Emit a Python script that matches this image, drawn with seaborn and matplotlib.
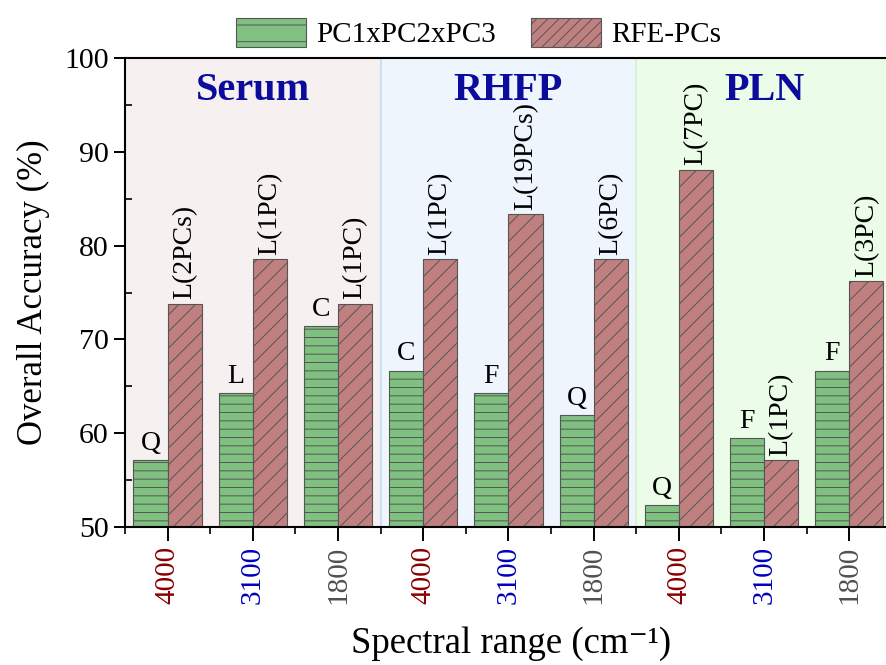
import pandas as pd
import seaborn as sns
import matplotlib.pyplot as plt
from matplotlib.patches import Patch
from matplotlib.ticker import MultipleLocator

regions = ['Serum', 'RHFP', 'PLN']
ranges = ['4000', '3100', '1800']
pc123 = [57.14, 64.29, 71.43, 66.67, 64.29, 61.90, 52.38, 59.52, 66.67]
rfe = [73.81, 78.57, 73.81, 78.57, 83.33, 78.57, 88.10, 57.14, 76.19]
pc123_labels = ['Q', 'L', 'C', 'C', 'F', 'Q', 'Q', 'F', 'F']
rfe_labels = ['L(2PCs)', 'L(1PC)', 'L(1PC)', 'L(1PC)', 'L(19PCs)', 'L(6PC)',
              'L(7PC)', 'L(1PC)', 'L(3PC)']
methods = ['PC1xPC2xPC3', 'RFE-PCs']

range_colors = {'4000': '#8b0000', '3100': '#0000c0', '1800': '#505050'}
region_bg = ['#f7f0f0', '#eef5fd', '#ebfce9']
region_edge = ['#ead2d2', '#c4e0f8', '#d8f0d4']
bar_colors = ['#80c080', '#c08080']

slots = [f'{r}-{s}' for r in regions for s in ranges]
df = pd.DataFrame({
    'slot': slots * 2,
    'method': [methods[0]] * len(slots) + [methods[1]] * len(slots),
    'acc': pc123 + rfe,
})

sns.set_style('ticks')
plt.rcParams['font.family'] = ['Liberation Serif', 'DejaVu Serif']
plt.rcParams['hatch.linewidth'] = 0.7
for k in ['text.color', 'axes.labelcolor', 'xtick.color', 'ytick.color', 'axes.edgecolor']:
    plt.rcParams[k] = 'black'

fig = plt.figure(figsize=(8.86, 6.65), dpi=100)
ax = fig.add_axes([0.141, 0.2075, 0.8657, 0.7053])

for i in range(len(regions)):
    ax.axvspan(i * 3 - 0.5, i * 3 + 2.5, facecolor=region_bg[i],
               edgecolor=region_edge[i], lw=1.2, zorder=0)

sns.barplot(data=df, x='slot', y='acc', hue='method', order=slots,
            hue_order=methods, palette=bar_colors, saturation=1, width=0.8,
            edgecolor='#555555', linewidth=0.8, legend=False, ax=ax, zorder=2)

hatches = ['--', '//']
for cont, h in zip(ax.containers, hatches):
    for p in cont:
        p.set_hatch(h)

for p, lab in zip(ax.containers[0], pc123_labels):
    ax.annotate(lab, (p.get_x() + p.get_width() / 2, p.get_height()),
                xytext=(0, 3), textcoords='offset points', ha='center',
                va='bottom', fontsize=20, zorder=3)
for p, lab in zip(ax.containers[1], rfe_labels):
    ax.annotate(lab, (p.get_x() + p.get_width() / 2, p.get_height()),
                xytext=(0, 3), textcoords='offset points', ha='center',
                va='bottom', rotation=90, fontsize=20, zorder=3)

for i, r in enumerate(regions):
    ax.text(i * 3 + 1, 96.5, r, ha='center', va='center', fontsize=29,
            fontweight='bold', color='#0c0c9c', zorder=3)

ax.set_xlim(-0.5, 8.5)
ax.set_ylim(50, 100)
ax.yaxis.set_major_locator(MultipleLocator(10))
ax.yaxis.set_minor_locator(MultipleLocator(5))
ax.xaxis.set_minor_locator(MultipleLocator(0.5))

ax.set_xticks(range(len(slots)))
ax.set_xticklabels(ranges * 3, rotation=90, fontsize=21)
for t, s in zip(ax.get_xticklabels(), ranges * 3):
    t.set_color(range_colors[s])
ax.tick_params(axis='y', labelsize=21.5)
ax.tick_params(axis='both', which='major', length=8, width=1.4, direction='out')
ax.tick_params(axis='x', which='minor', length=5, width=1.2, direction='out')
ax.tick_params(axis='y', which='minor', length=5, width=1.2, direction='in')
ax.tick_params(axis='x', which='major', length=10)

for s in ['left', 'bottom', 'top']:
    ax.spines[s].set_linewidth(1.5)
ax.spines['right'].set_visible(False)

ax.set_ylabel('Overall Accuracy (%)', fontsize=25)
ax.yaxis.set_label_coords(-0.098, 0.5)
ax.set_xlabel('Spectral range (cm\u207b\u00b9)', fontsize=26.5)
ax.xaxis.set_label_coords(0.503, -0.212)

handles = [Patch(facecolor=c, edgecolor='#555555', hatch=h, lw=0.8)
           for c, h in zip(bar_colors, ['-', '///'])]
fig.legend(handles, methods, loc='center', bbox_to_anchor=(0.54, 0.95),
           ncol=2, frameon=False, fontsize=21, handlelength=2.4,
           handleheight=1.15, handletextpad=0.35, columnspacing=1.2)

fig.savefig('out.png', dpi=100)
